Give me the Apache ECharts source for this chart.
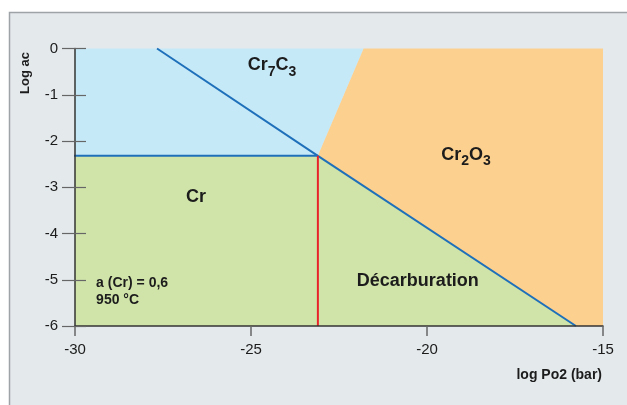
<!DOCTYPE html>
<html><head><meta charset="utf-8">
<script src="https://cdn.jsdelivr.net/npm/echarts@6/dist/echarts.min.js"></script>
<style>html,body{margin:0;padding:0;background:#fff}#c{width:627px;height:405px}</style>
</head><body><div id="c"></div>
<script>
// Phase boundaries (log Po2, log ac)
const triplePoint = [-23.1, -2.32];
const diagonalBoundary = [[-27.67, 0], [-23.1, -2.32], [-15.77, -6]];
const horizontalBoundary = [[-30, -2.32], [-23.1, -2.32]];
const verticalBoundary = [[-23.1, -2.32], [-23.1, -6]];
const oxideBoundary = [[-23.1, -2.32], [-21.8, 0]];
// Phase regions
const regionCarbide = [[-30, 0], [-21.8, 0], [-23.1, -2.32], [-30, -2.32]];
const regionOxide = [[-21.8, 0], [-15, 0], [-15, -6], [-15.77, -6], [-23.1, -2.32]];
const regionMetal = [[-30, -2.32], [-23.1, -2.32], [-15.77, -6], [-30, -6]];
const regionColors = ['#c6e9f8', '#fcd08f', '#d0e4a9'];

const chart = echarts.init(document.getElementById('c'), null, {renderer: 'canvas'});
const FONT = 'Liberation Sans, Arial, sans-serif';
const TXT = '#1c1c1c';
const regions = [regionCarbide, regionOxide, regionMetal];

function polySeries(pts, color) {
  return {
    type: 'custom', z: 1, silent: true, clip: false,
    data: [0],
    renderItem: function (params, api) {
      return {type: 'polygon', shape: {points: pts.map(p => api.coord(p))}, style: {fill: color}};
    }
  };
}
function lineSeries(pts, color) {
  return {type: 'line', data: pts, symbol: 'none', clip: false, z: 5, silent: true,
    lineStyle: {color: color, width: 2}};
}
const rich = {
  b: {fontFamily: FONT, fontWeight: 'bold', fontSize: 18, color: TXT, lineHeight: 22},
  s: {fontFamily: FONT, fontWeight: 'bold', fontSize: 14, color: TXT, padding: [13, 0, 0, 0], lineHeight: 22}
};
function textSeries(pt, text, extra) {
  return {type: 'scatter', data: [pt], symbolSize: 0, z: 6, silent: true,
    itemStyle: {opacity: 1},
    label: Object.assign({show: true, position: 'inside', formatter: text, rich: rich, opacity: 1,
      fontFamily: FONT, fontWeight: 'bold', fontSize: 18, color: TXT}, extra || {})};
}

const axisCommon = {
  z: 10,
  axisLine: {show: true, onZero: false, lineStyle: {color: '#333', width: 1.5}},
  splitLine: {show: false},
  axisLabel: {fontFamily: FONT, fontSize: 15, color: TXT}
};

chart.setOption({
  animation: false,
  backgroundColor: '#ffffff',
  graphic: [
    {type: 'rect', z: -10, shape: {x: 9.5, y: 12.5, width: 700, height: 500},
      style: {fill: '#e4e9ec', stroke: '#9ea3a7', lineWidth: 1.5}},
    {type: 'text', x: 25, y: 73, rotation: Math.PI / 2, z: 20,
      style: {text: 'Log ac', font: 'bold 13px ' + FONT, fill: TXT, align: 'center', verticalAlign: 'middle'}},
    {type: 'text', x: 602, y: 375, z: 20,
      style: {text: 'log Po2 (bar)', font: 'bold 14px ' + FONT, fill: TXT, align: 'right', verticalAlign: 'middle'}}
  ],
  grid: {left: 75, top: 48.5, width: 528, height: 277.5},
  xAxis: Object.assign({}, axisCommon, {
    type: 'value', min: -30, max: -15, interval: 5,
    axisTick: {show: true, length: 10, lineStyle: {color: '#666', width: 1.5}},
    axisLabel: Object.assign({}, axisCommon.axisLabel, {margin: 16})
  }),
  yAxis: [
    Object.assign({}, axisCommon, {
      type: 'value', min: -6, max: 0, interval: 1,
      axisTick: {show: true, length: 13, lineStyle: {color: '#666', width: 1.2}},
      axisLabel: Object.assign({}, axisCommon.axisLabel, {margin: 17})
    }),
    {type: 'value', min: -6, max: 0, interval: 1, position: 'left', z: 10,
      axisLine: {show: false, onZero: false}, splitLine: {show: false}, axisLabel: {show: false},
      axisTick: {show: true, inside: true, length: 11, lineStyle: {color: '#666', width: 1.2}}}
  ],
  series: [
    polySeries(regions[0], regionColors[0]),
    polySeries(regions[1], regionColors[1]),
    polySeries(regions[2], regionColors[2]),
    lineSeries(diagonalBoundary, '#1f70ba'),
    lineSeries([[-30.1, horizontalBoundary[0][1]], horizontalBoundary[1]], '#1f70ba'),
    lineSeries(verticalBoundary, '#e8232a'),
    textSeries([-24.4, -0.36], '{b|Cr}{s|7}{b|C}{s|3}'),
    textSeries([-18.89, -2.3], '{b|Cr}{s|2}{b|O}{s|3}'),
    textSeries([-26.56, -3.21], 'Cr'),
    textSeries([-20.26, -5.03], 'Décarburation'),
    textSeries([-29.4, -5.25], 'a (Cr) = 0,6\n950 °C', {position: 'right', distance: 0, fontSize: 14, lineHeight: 17, align: 'left'})
  ]
});
</script></body></html>
